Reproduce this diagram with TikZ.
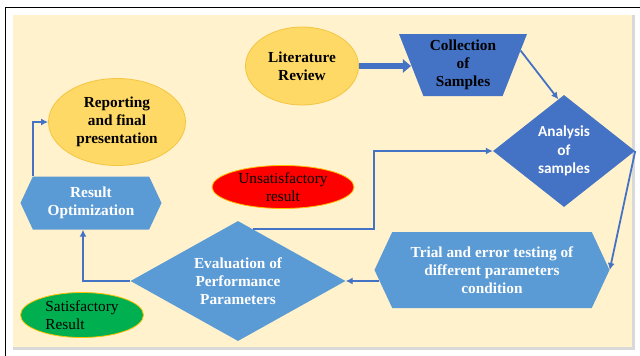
\documentclass[tikz,border=0pt]{standalone}
\usepackage{fontspec}
\setmainfont{Liberation Serif}
\newfontfamily\calibri{Carlito}
\usetikzlibrary{calc,positioning,arrows.meta,shapes.geometric,shapes.symbols}
\definecolor{cream}{HTML}{FFF2CC}
\definecolor{gold}{HTML}{FFD966}
\definecolor{goldline}{HTML}{F4C542}
\definecolor{darkblue}{HTML}{4472C4}
\definecolor{lightblue}{HTML}{5B9BD5}
\definecolor{okgreen}{HTML}{00B050}
\definecolor{edgeorange}{HTML}{FFC000}
\definecolor{sidegrey}{HTML}{D9D9D9}
\newcommand{\bigtext}{\fontsize{15.3}{18.3}\selectfont}
\tikzset{
  txt/.style={font=\bigtext, align=center, inner sep=0pt},
  oval/.style={txt, ellipse, fill=gold, draw=goldline, line width=0.8pt, font=\bigtext\bfseries},
  remark/.style={txt, ellipse, draw=edgeorange, line width=0.8pt},
  hexbox/.style={txt, signal, signal to=west and east, signal pointer angle=130,
    fill=lightblue, text=white, font=\bigtext\bfseries},
  flow/.style={draw=darkblue, line width=1.8pt, -{Latex[length=7pt,width=7pt]}},
}
\begin{document}
\begin{tikzpicture}[x=1pt,y=-1pt,>=Latex]
  \path[use as bounding box,clip] (0,0) rectangle (640,356);
  \fill[sidegrey] (13,15) rectangle (635,350);
  \fill[cream] (13,15) rectangle (632,347);
  \draw[line width=1.3pt] (5.7,370) |- (660,7.3);

  \node[oval, minimum width=113pt, minimum height=78pt] (lit) at (302,66) {Literature\\Review};
  \node[txt, trapezium, trapezium left angle=112, trapezium right angle=112,
    trapezium stretches=true, minimum width=128pt, minimum height=62pt,
    fill=darkblue, font=\bigtext\bfseries] (col) at (463,65) {Collection\\of\\Samples};
  \node[txt, diamond, minimum width=142pt, minimum height=112pt, fill=darkblue,
    text=white, font=\bigtext\calibri\bfseries] (ana) at (564,151) {Analysis\\of\\samples};
  \node[hexbox, minimum width=235pt, minimum height=76pt] (trial) at (492,270)
    {Trial and error testing of\\different parameters\\condition};
  \node[txt, diamond, aspect=1.79, minimum width=215pt, minimum height=120pt,
    fill=lightblue, text=white, font=\bigtext\bfseries] (eval) at (238,281)
    {Evaluation of\\Performance\\Parameters};
  \node[hexbox, minimum width=141pt, minimum height=53pt] (opt) at (91,203) {Result\\Optimization};
  \node[oval, minimum width=137pt, minimum height=87pt] (rep) at (117,122) {Reporting\\and final\\presentation};
  \node[remark, fill=red, minimum width=142pt, minimum height=43pt] (unsat) at (283,187) {Unsatisfactory\\result};
  \node[remark, fill=okgreen, align=left, minimum width=123pt, minimum height=45pt] (sat) at (82,315) {Satisfactory\\Result};

  \draw[darkblue, line width=6pt, -{Triangle[width=13pt,length=8pt]}] (lit.east) -- (lit.east -| col.west);
  \draw[flow] ($(col.top right corner)!0.27!(col.bottom right corner)$) -- ($(ana.north)!0.08!(ana.west)$);
  \draw[flow] (ana.east) -- (trial.east);
  \draw[flow] ($(trial.west |- eval.east)+(5,0)$) -- (eval.east);
  \coordinate (evalout) at ($(eval.north)!0.14!(eval.east)$);
  \draw[flow] (evalout) -- (evalout -| trial.west) |- (ana.west);
  \draw[flow] (eval.west) -| ($(opt.south)+(-8,0)$);
  \draw[flow] ($(opt.north)+(-58,0)$) |- (rep.west);
\end{tikzpicture}
\end{document}
